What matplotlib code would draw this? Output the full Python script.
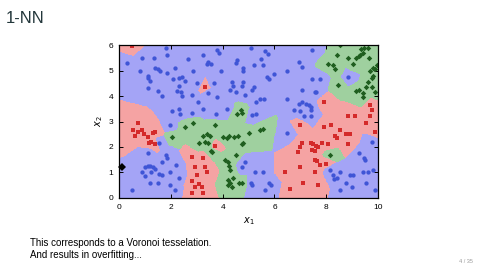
import numpy as np
import matplotlib
matplotlib.use("Agg")
import matplotlib.pyplot as plt
from matplotlib.colors import ListedColormap

# training points (x1, x2)
blue_pts = [
    (0.3, 5.3), (0.9, 5.5), (1.35, 5.5), (1.85, 5.6), (1.8, 5.9), (0.8, 5.0), (1.1, 4.8),
    (1.4, 5.1), (1.5, 5.05), (1.6, 5.0), (1.85, 4.9), (2.15, 5.1), (1.1, 4.7), (1.2, 4.6),
    (2.1, 4.65), (2.3, 4.7), (2.45, 4.75), (1.1, 4.3), (1.5, 4.2), (1.65, 4.0), (2.25, 4.2),
    (2.4, 4.15), (2.3, 4.4), (2.05, 3.4), (2.3, 3.5), (2.35, 3.3),
    (2.65, 5.45), (2.85, 5.0), (2.55, 4.6), (3.25, 5.6), (3.4, 5.25), (3.55, 5.25), (3.45, 5.35),
    (3.8, 5.8), (3.85, 5.7), (3.95, 5.0), (4.5, 5.3), (4.8, 5.0), (4.35, 4.55), (4.4, 4.4),
    (4.3, 4.25), (4.8, 4.55), (4.75, 4.4), (4.85, 4.05), (3.0, 4.5), (2.45, 4.0), (2.8, 4.05),
    (3.65, 4.5), (3.45, 4.1), (3.8, 3.95), (3.05, 3.75), (3.25, 3.5), (3.75, 3.3), (2.8, 3.35),
    (4.15, 3.5), (4.5, 4.15), (4.55, 5.4), (4.8, 5.1),
    (5.1, 5.9), (5.65, 5.75), (5.75, 5.65), (5.5, 5.45), (5.2, 5.2), (5.55, 5.2), (5.7, 4.75),
    (5.8, 4.65), (6.0, 4.85), (6.5, 5.0), (6.95, 5.35), (7.05, 5.15), (7.45, 5.8), (7.45, 4.65),
    (5.15, 4.25), (5.2, 4.35), (7.05, 4.25), (7.6, 4.15), (5.3, 3.75), (5.6, 3.9), (5.45, 3.9),
    (6.5, 3.9), (6.95, 3.7), (7.05, 3.75), (7.2, 3.7), (7.35, 3.65), (7.4, 3.55), (6.75, 3.45),
    (7.0, 3.4), (7.4, 3.45), (5.3, 3.3), (7.15, 3.2), (7.4, 3.2), (7.75, 4.65), (7.55, 4.15),
    (8.85, 4.75),
    (1.95, 2.85), (1.55, 2.15), (1.1, 1.75), (1.8, 1.7), (1.85, 1.55), (1.65, 1.4), (1.0, 1.2),
    (1.1, 1.25), (1.2, 1.25), (1.3, 1.2), (1.4, 1.15), (0.9, 1.0), (1.0, 0.85), (1.25, 1.0),
    (1.55, 0.95), (1.65, 0.9), (1.95, 1.0), (1.2, 0.6), (1.5, 0.6), (1.95, 0.5), (2.15, 0.3),
    (0.5, 0.3), (2.2, 1.3), (2.3, 0.8),
    (4.75, 1.2), (4.85, 1.4), (5.25, 1.0), (5.55, 1.0), (5.1, 0.6), (5.15, 0.5), (5.85, 0.5),
    (5.8, 0.6), (5.65, 0.3), (5.15, 3.25), (6.5, 2.55),
    (8.25, 0.9), (8.15, 1.1), (8.3, 0.75), (8.4, 0.8), (8.55, 1.0), (8.9, 0.9), (9.05, 0.9),
    (9.4, 1.0), (9.6, 1.0), (9.8, 1.1), (8.55, 0.3), (8.75, 0.6), (9.0, 0.45), (9.55, 0.6),
    (9.45, 1.55), (9.5, 1.5), (9.25, 1.75), (9.75, 2.2), (9.9, 0.3),
]

red_pts = [
    (0.5, 5.95), (3.3, 4.35),
    (0.75, 2.95), (0.55, 2.65), (0.75, 2.6), (0.9, 2.65), (0.6, 2.45), (1.1, 2.4), (1.3, 2.55),
    (1.4, 2.6), (1.15, 2.15), (1.25, 2.2), (1.4, 2.1), (0.95, 2.5),
    (2.8, 1.6), (3.25, 1.55), (2.95, 1.2), (3.3, 1.2), (3.4, 1.0), (3.0, 0.9), (2.8, 0.65),
    (3.1, 0.55), (3.2, 0.45), (2.95, 0.45), (2.8, 0.2), (3.25, 0.2), (3.7, 2.05),
    (7.9, 2.8), (8.2, 2.85), (8.55, 2.65), (8.4, 2.35), (8.35, 2.45), (8.75, 2.5), (8.9, 2.5),
    (7.4, 2.15), (7.5, 2.1), (7.6, 2.05), (7.7, 2.0), (7.85, 2.15), (8.05, 2.1), (7.05, 2.15),
    (7.0, 2.0), (7.45, 1.9), (7.55, 1.85), (6.9, 1.8), (7.55, 1.5), (7.65, 1.45), (7.75, 1.3),
    (8.0, 1.35), (6.4, 1.0), (7.0, 1.2), (7.55, 1.0), (7.1, 0.6), (8.85, 2.1), (9.1, 3.2),
    (9.55, 2.95), (9.7, 3.2), (9.75, 3.45), (9.7, 3.65), (7.9, 3.75), (8.85, 3.2), (7.0, 2.85),
    (6.6, 0.35), (7.7, 0.5), (9.9, 2.6),
]

green_pts = [
    (2.55, 2.8), (2.85, 2.95), (2.05, 2.4), (3.25, 2.45), (3.4, 2.5), (3.5, 2.45), (3.7, 2.85),
    (4.0, 2.4), (4.15, 2.35), (4.25, 2.45), (4.6, 2.45), (3.1, 2.15), (3.3, 2.2), (3.45, 2.15),
    (3.55, 1.85), (3.6, 1.8), (4.1, 1.5), (4.2, 1.4), (4.25, 1.25), (4.3, 1.1), (4.2, 0.7),
    (4.3, 0.6), (4.2, 0.5), (4.65, 0.6), (4.4, 0.8), (4.75, 0.6), (4.35, 0.45), (4.5, 1.7),
    (4.75, 2.1), (4.55, 3.3), (4.75, 3.35), (4.7, 3.45), (4.45, 2.4), (5.0, 2.55), (5.45, 2.65),
    (5.55, 2.7), (4.8, 2.15),
    (8.15, 1.7),
    (8.55, 6.0), (9.35, 5.85), (9.45, 5.9), (9.4, 5.7), (9.3, 5.6), (8.85, 5.5), (9.15, 5.5),
    (9.25, 5.55), (8.4, 5.6), (8.05, 5.25), (8.25, 5.2), (9.05, 5.25), (8.35, 5.05), (9.9, 5.05),
    (9.95, 5.2), (9.7, 5.0), (9.8, 4.8), (8.45, 4.45), (9.6, 4.55), (9.75, 4.7), (9.55, 4.35),
    (9.15, 4.2), (9.4, 4.1), (9.9, 4.15), (9.6, 5.9), (9.65, 5.5), (9.8, 5.1), (9.4, 3.95),
    (9.25, 4.25), (9.75, 4.35),
]

query_pt = (0.1, 1.2)

x_ticks = [0, 2, 4, 6, 8, 10]
y_ticks = [0, 1, 2, 3, 4, 5, 6]

region_colors = ["#a4a4f6", "#f5a3a3", "#9fd09f"]
point_colors = ["#3f55d6", "#d42a2a", "#1f5e1f"]

# 1-NN decision regions on a grid
pts = np.array(blue_pts + red_pts + green_pts)
labels = np.array([0] * len(blue_pts) + [1] * len(red_pts) + [2] * len(green_pts))
gx = np.linspace(0, 10, 500)
gy = np.linspace(0, 6, 300)
XX, YY = np.meshgrid(gx, gy)
grid = np.c_[XX.ravel(), YY.ravel()]
pred = np.empty(len(grid), dtype=int)
for i in range(0, len(grid), 20000):
    chunk = grid[i:i + 20000]
    d = ((chunk[:, None, :] - pts[None, :, :]) ** 2).sum(-1)
    pred[i:i + 20000] = labels[d.argmin(1)]
Z = pred.reshape(XX.shape)

plt.rcParams['font.family'] = ['Liberation Sans', 'DejaVu Sans']
fig = plt.figure(figsize=(4.8, 2.7), dpi=100)
ax = fig.add_axes([0.248, 0.2667, 0.5396, 0.5666])
ax.imshow(Z, origin='lower', extent=[0, 10, 0, 6], aspect='auto',
          cmap=ListedColormap(region_colors), vmin=0, vmax=2, interpolation='nearest')

b = np.array(blue_pts)
r = np.array(red_pts)
g = np.array(green_pts)
ax.plot(b[:, 0], b[:, 1], 'o', color=point_colors[0], ms=3.1, mew=0)
ax.plot(r[:, 0], r[:, 1], 's', color=point_colors[1], ms=2.8, mew=0)
ax.plot(g[:, 0], g[:, 1], 'D', color=point_colors[2], ms=2.8, mew=0)
ax.plot([query_pt[0]], [query_pt[1]], 'D', color='black', ms=4.5, mew=0, clip_on=False)

ax.set_xlim(0, 10)
ax.set_ylim(0, 6)
ax.set_xticks(x_ticks)
ax.set_yticks(y_ticks)
ax.tick_params(direction='in', top=True, right=True, length=3, width=0.7,
               labelsize=6, pad=4)
for s in ax.spines.values():
    s.set_linewidth(0.9)
ax.set_xlabel('$x_1$', fontsize=7, labelpad=3)
ax.set_ylabel('$x_2$', fontsize=7, labelpad=3)

fig.text(0.0125, 0.933, '1-NN', fontsize=12, color='#23373b', va='center')
fig.text(0.0625, 0.1, 'This corresponds to a Voronoi tesselation.', fontsize=7, va='center')
fig.text(0.0625, 0.0556, 'And results in overfitting...', fontsize=7, va='center')
fig.text(0.985, 0.03, '4 / 35', fontsize=4, color='#999999', ha='right', va='center')

fig.savefig('out.png', dpi=100)
